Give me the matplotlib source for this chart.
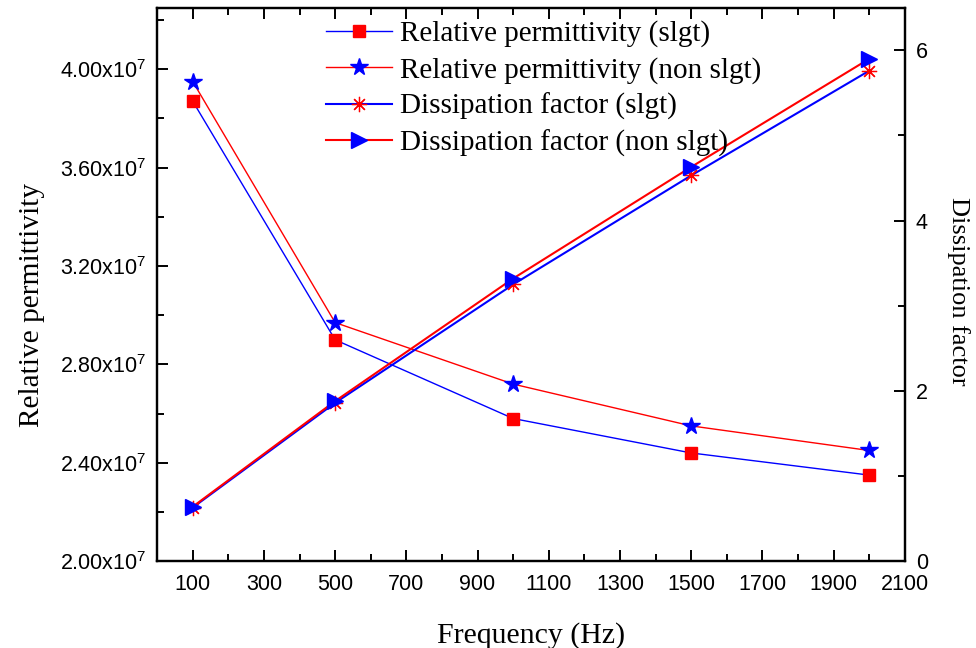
import matplotlib
matplotlib.use("Agg")
import matplotlib.pyplot as plt
from matplotlib.ticker import FuncFormatter, MultipleLocator

plt.rcParams['mathtext.default'] = 'regular'

freq = [100, 500, 1000, 1500, 2000]

# relative permittivity (left axis)
perm_slgt = [3.87e7, 2.90e7, 2.58e7, 2.44e7, 2.35e7]
perm_non_slgt = [3.95e7, 2.97e7, 2.72e7, 2.55e7, 2.45e7]

# dissipation factor (right axis)
diss_slgt = [0.63, 1.86, 3.25, 4.53, 5.76]
diss_non_slgt = [0.64, 1.88, 3.32, 4.63, 5.90]

labels = ["Relative permittivity (slgt)", "Relative permittivity (non slgt)",
          "Dissipation factor (slgt)", "Dissipation factor (non slgt)"]

SERIF = "Liberation Serif"
SANS = "Liberation Sans"


def sci_fmt(v, pos):
    return f"{v / 1e7:.2f}x10$^{{7}}$"


def style_axis(ax):
    for s in ax.spines.values():
        s.set_linewidth(1.6)
    ax.tick_params(which='both', direction='in', width=1.4, labelsize=15.5)
    ax.tick_params(which='major', length=8)
    ax.tick_params(which='minor', length=5)
    for lab in ax.get_xticklabels() + ax.get_yticklabels():
        lab.set_fontfamily(SANS)


def main():
    fig = plt.figure(figsize=(9.76, 6.48), dpi=100)
    ax = fig.add_axes([0.161, 0.134, 0.766, 0.854])
    ax2 = ax.twinx()

    h1, = ax.plot(freq, perm_slgt, '-', color='blue', lw=1.0,
                  marker='s', ms=8, mfc='red', mec='red', label=labels[0])
    h2, = ax.plot(freq, perm_non_slgt, '-', color='red', lw=1.0,
                  marker='*', ms=13, mfc='blue', mec='blue', label=labels[1])
    h3, = ax2.plot(freq, diss_slgt, '-', color='blue', lw=1.5,
                   marker=(8, 2, 0), ms=11, mec='red', mew=0.9, label=labels[2])
    h4, = ax2.plot(freq, diss_non_slgt, '-', color='red', lw=1.5,
                   marker='>', ms=11, mfc='blue', mec='blue', label=labels[3])

    ax.set_xlim(0, 2100)
    ax.set_ylim(2.0e7, 4.25e7)
    ax2.set_ylim(0, 6.5)

    ax.xaxis.set_minor_locator(MultipleLocator(100))
    ax.set_xticks(range(100, 2101, 200))
    ax.yaxis.set_major_locator(MultipleLocator(0.4e7))
    ax.yaxis.set_minor_locator(MultipleLocator(0.2e7))
    ax.yaxis.set_major_formatter(FuncFormatter(sci_fmt))
    ax2.yaxis.set_major_locator(MultipleLocator(2))
    ax2.yaxis.set_minor_locator(MultipleLocator(1))

    ax.tick_params(axis='x', which='both', top=True)
    style_axis(ax)
    style_axis(ax2)
    ax.tick_params(axis='x', pad=9)
    ax.tick_params(axis='y', pad=8)
    ax2.tick_params(axis='y', pad=8)

    ax.set_xlabel("Frequency (Hz)", fontfamily=SERIF, fontsize=21.5)
    ax.xaxis.set_label_coords(0.5, -0.11)
    ax.set_ylabel("Relative permittivity", fontfamily=SERIF, fontsize=21.2)
    ax.yaxis.set_label_coords(-0.150, 0.463)
    ax2.set_ylabel("Dissipation factor", fontfamily=SERIF, fontsize=19,
                   rotation=270, va='bottom')
    ax2.yaxis.set_label_coords(1.057, 0.488)

    ax2.legend([h1, h2, h3, h4], labels, loc='upper left',
               bbox_to_anchor=(0.226, 0.977), frameon=False, numpoints=1,
               prop={'family': SERIF, 'size': 21}, handlelength=2.27,
               handletextpad=0.28, labelspacing=0.32, borderpad=0.0,
               borderaxespad=0.0)

    fig.savefig("out.png", dpi=100)


if __name__ == "__main__":
    main()
